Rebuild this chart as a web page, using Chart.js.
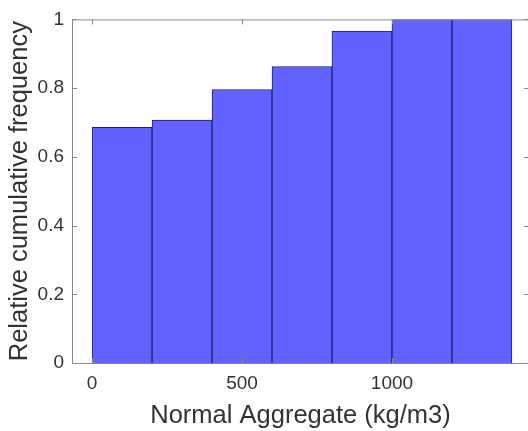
<!DOCTYPE html>
<html>
<head>
<meta charset="utf-8">
<script src="https://cdn.jsdelivr.net/npm/chart.js@4/dist/chart.umd.min.js"></script>
<style>
    html, body { margin: 0; padding: 0; background: #fff; overflow: hidden; }
    #wrap { width: 540px; height: 431px; }
</style>
</head>
<body>
<div id="wrap"><canvas id="chart"></canvas></div>
<script>
// Histogram data (bin centres, kg/m3) and relative cumulative frequency
const binCenters = [100, 300, 500, 700, 900, 1100, 1300];
const cumFreq = [0.686, 0.707, 0.796, 0.863, 0.966, 1.0, 1.0];
const xTicks = [0, 500, 1000];
const yTicks = [0, 0.2, 0.4, 0.6, 0.8, 1];

const textColor = '#333';
const axisColor = '#888';

// Draw the MATLAB-style box with inward tick marks
const boxPlugin = {
    id: 'box',
    afterDatasetsDraw(chart) {
        const {ctx, chartArea: a, scales} = chart;
        ctx.save();
        ctx.strokeStyle = axisColor;
        ctx.lineWidth = 1;
        ctx.strokeRect(a.left + 0.5, a.top + 0.5, a.right - a.left, a.bottom - a.top);
        ctx.beginPath();
        xTicks.forEach(v => {
            const x = Math.round(scales.x.getPixelForValue(v)) + 0.5;
            ctx.moveTo(x, a.bottom); ctx.lineTo(x, a.bottom - 5);
            ctx.moveTo(x, a.top); ctx.lineTo(x, a.top + 5);
        });
        yTicks.forEach(v => {
            const y = Math.round(scales.y.getPixelForValue(v)) + 0.5;
            ctx.moveTo(a.left, y); ctx.lineTo(a.left + 5, y);
            ctx.moveTo(a.right, y); ctx.lineTo(a.right - 5, y);
        });
        ctx.stroke();
        ctx.restore();
    }
};

new Chart(document.getElementById('chart'), {
    type: 'bar',
    data: {
        datasets: [{
            data: binCenters.map((x, i) => ({x: x, y: cumFreq[i]})),
            backgroundColor: 'rgb(98, 98, 255)',
            borderColor: 'rgb(30, 30, 120)',
            borderWidth: 1,
            borderSkipped: 'start',
            barPercentage: 1,
            categoryPercentage: 1
        }]
    },
    options: {
        responsive: true,
        maintainAspectRatio: false,
        animation: false,
        devicePixelRatio: 1,
        layout: { padding: { top: 15, right: 11, left: 0, bottom: 0 } },
        plugins: { legend: { display: false }, tooltip: { enabled: false } },
        scales: {
            x: {
                type: 'linear',
                offset: false,
                min: -67,
                max: 1457,
                grid: { display: false, drawTicks: false },
                border: { display: false },
                afterBuildTicks: scale => { scale.ticks = xTicks.map(v => ({value: v})); },
                afterFit: scale => { scale.height = 68; },
                ticks: {
                    color: textColor,
                    padding: 9,
                    maxRotation: 0,
                    callback: v => String(v),
                    font: { family: 'Liberation Sans, Arial, sans-serif', size: 19 }
                },
                title: {
                    display: true,
                    text: 'Normal Aggregate (kg/m3)',
                    color: textColor,
                    padding: { top: 2, bottom: 0 },
                    font: { family: 'Liberation Sans, Arial, sans-serif', size: 25.5 }
                }
            },
            y: {
                min: 0,
                max: 1,
                grid: { display: false, drawTicks: false },
                border: { display: false },
                afterBuildTicks: scale => { scale.ticks = yTicks.map(v => ({value: v})); },
                afterFit: scale => { scale.width = 72; },
                ticks: {
                    color: textColor,
                    padding: 8,
                    callback: v => String(v),
                    font: { family: 'Liberation Sans, Arial, sans-serif', size: 19 }
                },
                title: {
                    display: true,
                    text: 'Relative cumulative frequency',
                    color: textColor,
                    padding: { top: 5, bottom: 0 },
                    font: { family: 'Liberation Sans, Arial, sans-serif', size: 25.5 }
                }
            }
        }
    },
    plugins: [boxPlugin]
});
</script>
</body>
</html>
